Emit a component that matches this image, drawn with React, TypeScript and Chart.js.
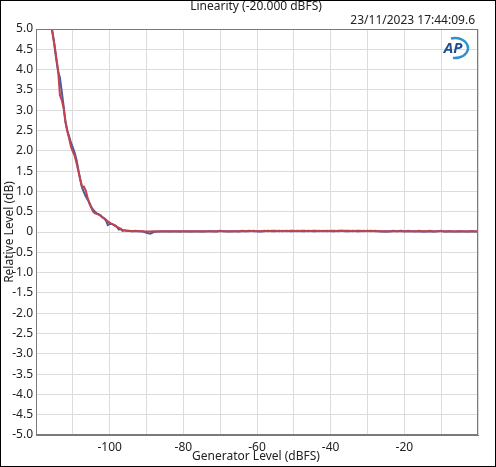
import React, { useEffect, useRef } from "react";
import { Chart, registerables } from "chart.js";

Chart.register(...registerables);

const titleText = "Linearity (-20.000 dBFS)";
const timestampText = "23/11/2023 17:44:09.6";
const xTitle = "Generator Level (dBFS)";
const yTitle = "Relative Level (dB)";

const levels = [
  -117, -116.5, -116, -115.5, -115, -114.5, -114, -113.5, -113, -112.5,
  -112, -111.5, -111, -110.5, -110, -109.5, -109, -108.5, -108, -107.5,
  -107, -106.5, -106, -105.5, -105, -104.5, -104, -103.5, -103, -102.5,
  -102, -101.5, -101, -100.5, -100, -99.5, -99, -98.5, -98, -97.5,
  -97, -96.5, -96, -95.5, -95,
  -94, -93, -92, -91, -90, -89, -88, -87, -86,
  -85, -84, -83, -82, -81, -80, -79, -78, -77, -76,
  -75, -74, -73, -72, -71, -70, -69, -68, -67, -66,
  -65, -64, -63, -62, -61, -60, -59, -58, -57, -56,
  -55, -54, -53, -52, -51, -50, -49, -48, -47, -46,
  -45, -44, -43, -42, -41, -40, -39, -38, -37, -36,
  -35, -34, -33, -32, -31, -30, -29, -28, -27, -26,
  -25, -24, -23, -22, -21, -20, -19, -18, -17, -16,
  -15, -14, -13, -12, -11, -10, -9, -8, -7, -6,
  -5, -4, -3, -2, -1, 0,
];

const blueLevel = [
  5.6, 5.4, 5.15, 4.92, 4.6, 4.25, 3.95, 3.8, 3.45, 3.1,
  2.72, 2.5, 2.35, 2.2, 2.08, 1.95, 1.78, 1.53, 1.3, 1.1,
  0.98, 0.88, 0.8, 0.72, 0.62, 0.55, 0.5, 0.46, 0.44, 0.41,
  0.37, 0.33, 0.28, 0.17, 0.2, 0.2, 0.18, 0.15, 0.12, 0.06,
  0.08, 0.03, 0.04, 0.03, 0.03,
  0.02, 0.02, 0.02, 0.01, -0.02, -0.04, 0.0, 0.01, 0.01,
  0.01, 0.02, 0.01, 0.01, 0.02, 0.01, 0.01, 0.02, 0.01, 0.01,
  0.02, 0.01, 0.02, 0.02, 0.01, 0.02, 0.02, 0.01, 0.02, 0.02,
  0.01, 0.02, 0.02, 0.03, 0.02, 0.02, 0.01, 0.02, 0.03, 0.02,
  0.02, 0.03, 0.02, 0.03, 0.02, 0.02, 0.03, 0.02, 0.02, 0.03,
  0.02, 0.02, 0.03, 0.02, 0.03, 0.02, 0.02, 0.03, 0.03, 0.02,
  0.02, 0.03, 0.02, 0.02, 0.03, 0.02, 0.03, 0.02, 0.02, 0.01,
  0.02, 0.01, 0.02, 0.02, 0.03, 0.02, 0.01, 0.02, 0.02, 0.01,
  0.02, 0.01, 0.02, 0.01, 0.02, 0.02, 0.01, 0.02, 0.01, 0.01,
  0.02, 0.01, 0.01, 0.02, 0.01, 0.01,
];

const redLevel = [
  5.55, 5.35, 5.1, 4.88, 4.62, 4.3, 3.98, 3.37, 3.25, 3.05,
  2.7, 2.48, 2.3, 2.1, 1.98, 1.88, 1.7, 1.5, 1.3, 1.1,
  1.12, 1.02, 0.85, 0.7, 0.6, 0.5, 0.46, 0.45, 0.43, 0.4,
  0.36, 0.34, 0.3, 0.26, 0.23, 0.2, 0.18, 0.16, 0.13, 0.1,
  0.07, 0.05, 0.04, 0.03, 0.03,
  0.02, 0.03, 0.02, 0.02, 0.01, 0.01, 0.02, 0.01, 0.02,
  0.02, 0.01, 0.02, 0.02, 0.01, 0.02, 0.02, 0.01, 0.02, 0.02,
  0.01, 0.02, 0.02, 0.01, 0.02, 0.03, 0.02, 0.02, 0.01, 0.02,
  0.02, 0.03, 0.02, 0.02, 0.03, 0.02, 0.02, 0.03, 0.02, 0.03,
  0.03, 0.02, 0.03, 0.02, 0.03, 0.03, 0.02, 0.03, 0.03, 0.02,
  0.03, 0.03, 0.02, 0.03, 0.02, 0.03, 0.03, 0.02, 0.03, 0.03,
  0.03, 0.02, 0.03, 0.03, 0.02, 0.03, 0.02, 0.03, 0.02, 0.02,
  0.01, 0.02, 0.03, 0.02, 0.02, 0.01, 0.03, 0.02, 0.01, 0.03,
  0.01, 0.02, 0.03, 0.01, 0.02, 0.03, 0.01, 0.02, 0.02, 0.01,
  0.02, 0.02, 0.01, 0.02, 0.02, 0.01,
];

const xMin = -120;
const xMax = 0;
const yMin = -5;
const yMax = 5;

const FONT = "'Noto Sans', 'Open Sans', sans-serif";

const decorPlugin = {
  id: "decor",
  afterDraw(chart: any) {
    const ctx = chart.ctx as CanvasRenderingContext2D;
    const a = chart.chartArea;
    ctx.save();
    ctx.strokeStyle = "#7a7a7a";
    ctx.lineWidth = 1;
    ctx.strokeRect(Math.round(a.left) + 0.5, Math.round(a.top) + 0.5, Math.round(a.right - a.left) - 1, Math.round(a.bottom - a.top) - 1);
    ctx.strokeStyle = "#000";
    ctx.strokeRect(0.5, 0.5, chart.width - 1, chart.height - 1);
    ctx.fillStyle = "#222";
    ctx.font = `12px ${FONT}`;
    ctx.textAlign = "center";
    ctx.textBaseline = "middle";
    ctx.fillText(titleText, 256, 7);
    ctx.textAlign = "right";
    ctx.fillText(timestampText, 475, 21);
    ctx.textAlign = "center";
    ctx.fillText(xTitle, 256, 457);
    ctx.save();
    ctx.translate(10, 232);
    ctx.rotate(-Math.PI / 2);
    ctx.fillText(yTitle, 0, 0);
    ctx.restore();
    // AP logo
    ctx.save();
    ctx.fillStyle = "#1f4f8c";
    ctx.font = `bold italic 15px ${FONT}`;
    ctx.textAlign = "center";
    ctx.fillText("AP", 453, 49);
    ctx.strokeStyle = "#2f8fcf";
    ctx.lineWidth = 2.4;
    ctx.beginPath();
    ctx.ellipse(455, 48, 13, 10, 0, -Math.PI * 0.6, Math.PI * 0.55);
    ctx.stroke();
    ctx.restore();
    ctx.restore();
  },
};

export default function App() {
  const ref = useRef<HTMLCanvasElement | null>(null);
  useEffect(() => {
    document.body.style.margin = "0";
    const canvas = ref.current!;
    const chart = new Chart(canvas, {
      type: "line",
      data: {
        datasets: [
          {
            label: "Ch1",
            data: levels.map((x, i) => ({ x, y: blueLevel[i] })),
            borderColor: "#4a5a9e",
            borderWidth: 2,
            pointRadius: 0,
            tension: 0,
            order: 2,
          },
          {
            label: "Ch2",
            data: levels.map((x, i) => ({ x, y: redLevel[i] })),
            borderColor: "#c2424e",
            borderWidth: 2,
            pointRadius: 0,
            tension: 0,
            order: 1,
          },
        ],
      },
      options: {
        animation: false,
        responsive: false,
        maintainAspectRatio: false,
        layout: { padding: { left: 0, top: 29, right: 18, bottom: 0 } },
        plugins: { legend: { display: false }, tooltip: { enabled: false }, title: { display: false } },
        scales: {
          x: {
            type: "linear",
            min: xMin,
            max: xMax,
            grid: { color: "#dcdcdc", drawTicks: false },
            border: { color: "#7a7a7a" },
            ticks: {
              stepSize: 10,
              padding: 5,
              color: "#222",
              font: { family: FONT, size: 12 },
              maxRotation: 0,
              autoSkip: false,
              callback: (v: any) => {
                const n = Number(v);
                if (n === xMin || n === xMax) return "";
                return n % 20 === 0 ? String(n) : "";
              },
            },
            afterFit: (s: any) => {
              s.height = 32;
            },
          },
          y: {
            type: "linear",
            min: yMin,
            max: yMax,
            grid: { color: "#dcdcdc", drawTicks: false },
            border: { color: "#7a7a7a" },
            ticks: {
              stepSize: 0.5,
              padding: 3,
              color: "#222",
              font: { family: FONT, size: 12 },
              autoSkip: false,
              callback: (v: any) => {
                const n = Number(v);
                return Math.abs(n) < 1e-9 ? "0" : n.toFixed(1);
              },
            },
            afterFit: (s: any) => {
              s.width = 36;
            },
          },
        },
      },
      plugins: [decorPlugin],
    });
    return () => chart.destroy();
  }, []);
  return (
    <div style={{ width: 496, height: 467, position: "relative" }}>
      <canvas ref={ref} width={496} height={467} style={{ width: 496, height: 467, display: "block" }} />
    </div>
  );
}
